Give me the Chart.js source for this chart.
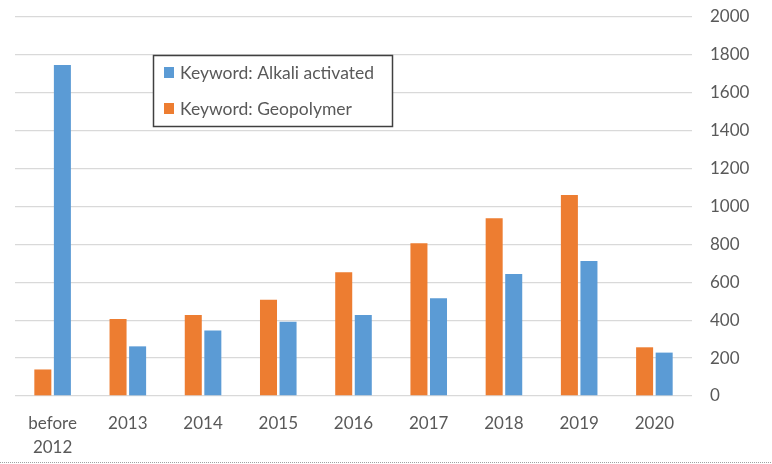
<!DOCTYPE html>
<html>
<head>
<meta charset="utf-8">
<script src="https://cdn.jsdelivr.net/npm/chart.js@4"></script>
<style>
  html, body { margin: 0; padding: 0; background: #fff; }
  #wrap { width: 772px; height: 464px; }
</style>
</head>
<body>
<div id="wrap"><canvas id="myChart" width="772" height="464"></canvas></div>
<script>
const categories = [['before', '2012'], '2013', '2014', '2015', '2016', '2017', '2018', '2019', '2020'];
const geopolymer = [140, 406, 427, 508, 653, 806, 938, 1061, 257];
const alkaliActivated = [1747, 262, 345, 392, 427, 516, 644, 712, 229];
const yTicks = [0, 200, 400, 600, 800, 1000, 1200, 1400, 1600, 1800, 2000];

const FONT = 'Lato, "Open Sans", sans-serif';
const TEXT = '#595959';

// legend drawn as a boxed panel inside the plot, blue entry first
const boxLegend = {
    id: 'boxLegend',
    afterDraw(chart) {
        const c = chart.ctx;
        c.save();
        c.fillStyle = '#fff';
        c.fillRect(153, 55, 240, 72);
        c.strokeStyle = '#404040';
        c.lineWidth = 1.5;
        c.strokeRect(153.5, 55.5, 239, 71);
        const items = chart.data.datasets.slice().reverse();
        c.font = '17.5px ' + FONT;
        c.textBaseline = 'middle';
        items.forEach((ds, i) => {
            const y = 73 + i * 36;
            c.fillStyle = ds.backgroundColor;
            c.fillRect(164, y - 6, 10, 11);
            c.fillStyle = TEXT;
            c.fillText(ds.label, 180, y);
        });
        // dotted edge at the bottom of the picture
        c.strokeStyle = '#a0a0a0';
        c.lineWidth = 1;
        c.setLineDash([1, 1]);
        c.beginPath();
        c.moveTo(0, 462.5);
        c.lineTo(772, 462.5);
        c.stroke();
        c.restore();
    }
};

const ctx = document.getElementById('myChart').getContext('2d');

new Chart(ctx, {
    type: 'bar',
    data: {
        labels: categories,
        datasets: [{
            label: 'Keyword: Geopolymer',
            data: geopolymer,
            backgroundColor: '#ED7D31'
        }, {
            label: 'Keyword: Alkali activated',
            data: alkaliActivated,
            backgroundColor: '#5B9BD5'
        }]
    },
    options: {
        responsive: false,
        animation: false,
        layout: {
            padding: { left: 15, top: 17, right: 0, bottom: 0 }
        },
        datasets: {
            bar: {
                categoryPercentage: 0.52,
                barPercentage: 0.87
            }
        },
        plugins: {
            legend: { display: false },
            tooltip: { enabled: false }
        },
        scales: {
            x: {
                grid: { display: false },
                border: { display: false },
                ticks: {
                    color: TEXT,
                    padding: 7,
                    maxRotation: 0,
                    font: { family: FONT, size: 17, lineHeight: 1.42 }
                },
                afterFit(scale) {
                    scale.height = 68;
                    scale.paddingLeft = 0;
                    scale.paddingRight = 0;
                }
            },
            y: {
                position: 'right',
                min: 0,
                max: 2000,
                afterBuildTicks(scale) {
                    scale.ticks = yTicks.map(v => ({ value: v }));
                },
                grid: { color: '#d9d9d9', lineWidth: 1.3, drawTicks: false },
                border: { display: false },
                ticks: {
                    color: TEXT,
                    padding: 18,
                    font: { family: FONT, size: 17 },
                    callback: v => String(v)
                },
                afterFit(scale) {
                    scale.width = 80;
                    scale.paddingTop = 0;
                    scale.paddingBottom = 0;
                }
            }
        }
    },
    plugins: [boxLegend]
});
</script>
</body>
</html>
